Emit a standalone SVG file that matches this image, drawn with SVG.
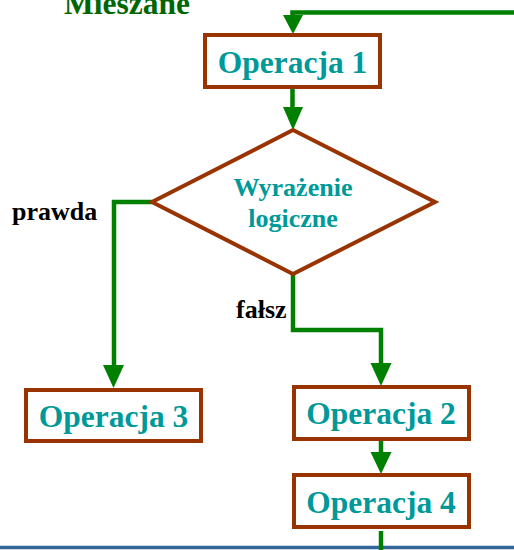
<svg xmlns="http://www.w3.org/2000/svg" width="514" height="550" viewBox="0 0 514 550">
<style>
.box{fill:#ffffff;stroke:#993300;stroke-width:4}
.op{font-family:"Liberation Serif","Times New Roman",serif;font-weight:bold;font-size:31.5px;fill:#009999;text-anchor:middle}
.cond{font-family:"Liberation Serif","Times New Roman",serif;font-weight:bold;font-size:26px;fill:#009999;text-anchor:middle}
.lbl{font-family:"Liberation Serif","Times New Roman",serif;font-weight:bold;font-size:26px;fill:#000000}
.title{font-family:"Liberation Serif","Times New Roman",serif;font-weight:bold;font-size:31.5px;fill:#006600}
.line{fill:none;stroke:#008000;stroke-width:4.5}
.head{fill:#008000}
</style>
<rect width="514" height="550" fill="#ffffff"/>
<line x1="0" y1="547.5" x2="514" y2="547.5" stroke="#336699" stroke-width="3.5"/>
<text class="title" x="64" y="14">Mieszane</text>
<g id="connectors">
  <polyline class="line" points="514,12.5 292.5,12.5 292.5,18"/>
  <polygon class="head" points="283,15 303,15 293,34"/>
  <line class="line" x1="292.5" y1="89" x2="292.5" y2="110"/>
  <polygon class="head" points="283,107 303,107 293,130"/>
  <polyline class="line" points="152,202 114,202 114,368"/>
  <polygon class="head" points="103,365 124,365 113.5,388"/>
  <polyline class="line" points="293,274 293,330 381,330 381,366"/>
  <polygon class="head" points="370.5,363 391.5,363 381,386"/>
  <line class="line" x1="381" y1="441" x2="381" y2="455"/>
  <polygon class="head" points="370.5,452 391.5,452 381,474"/>
  <line class="line" x1="381" y1="531" x2="381" y2="550"/>
</g>
<g id="op1">
  <rect class="box" x="205" y="35" width="175" height="52"/>
  <text class="op" x="292.5" y="73">Operacja 1</text>
</g>
<g id="cond">
  <polygon points="293,130 435,202 293,274 152,202" fill="#ffffff" stroke="#993300" stroke-width="4"/>
  <text class="cond" x="293" y="196">Wyrażenie</text>
  <text class="cond" x="293" y="227">logiczne</text>
</g>
<g id="lbl-prawda"><text class="lbl" x="12" y="220">prawda</text></g>
<g id="lbl-falsz"><text class="lbl" x="236" y="318">fałsz</text></g>
<g id="op3">
  <rect class="box" x="26" y="390" width="175" height="51"/>
  <text class="op" x="113.5" y="427">Operacja 3</text>
</g>
<g id="op2">
  <rect class="box" x="294" y="387" width="175" height="52"/>
  <text class="op" x="381" y="424">Operacja 2</text>
</g>
<g id="op4">
  <rect class="box" x="294" y="475" width="175" height="52"/>
  <text class="op" x="381" y="513">Operacja 4</text>
</g>
</svg>
